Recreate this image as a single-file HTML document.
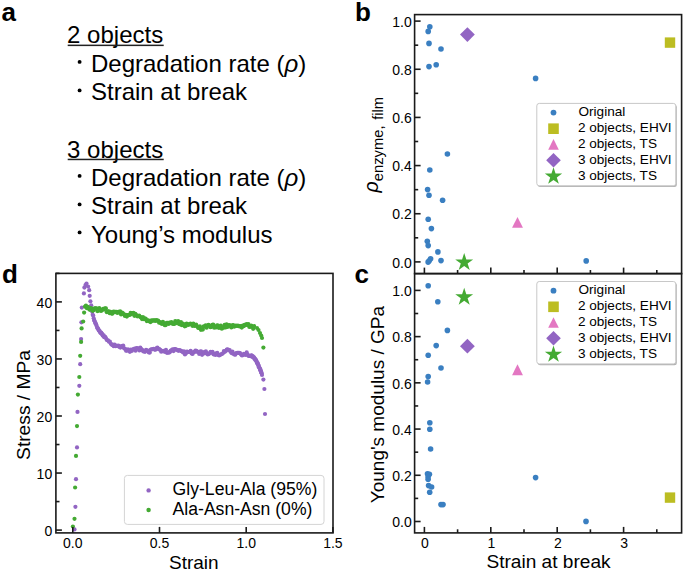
<!DOCTYPE html>
<html><head><meta charset="utf-8"><title>Figure</title>
<style>
html,body{margin:0;padding:0;background:#fff;}
body{width:685px;height:570px;overflow:hidden;font-family:"Liberation Sans", sans-serif;}
svg{display:block;}
</style></head><body>
<svg width="685" height="570" viewBox="0 0 685 570" font-family='"Liberation Sans", sans-serif' fill="#000"><text x="1.5" y="21.3" font-size="26" font-weight="bold">a</text>
<text x="67.1" y="43.4" font-size="24">2 objects</text>
<rect x="67.7" y="44.60" width="96" height="1.5" fill="#222"/>
<circle cx="79.6" cy="61.90" r="1.95" fill="#000"/>
<text x="91" y="71.6" font-size="24">Degradation rate (<tspan font-style="italic">ρ</tspan>)</text>
<circle cx="79.6" cy="90.40" r="1.95" fill="#000"/>
<text x="91" y="100.0" font-size="24">Strain at break</text>
<text x="67.1" y="157.5" font-size="24">3 objects</text>
<rect x="67.7" y="158.70" width="96" height="1.5" fill="#222"/>
<circle cx="79.6" cy="175.90" r="1.95" fill="#000"/>
<text x="91" y="185.6" font-size="24">Degradation rate (<tspan font-style="italic">ρ</tspan>)</text>
<circle cx="79.6" cy="204.40" r="1.95" fill="#000"/>
<text x="91" y="214.0" font-size="24">Strain at break</text>
<circle cx="79.6" cy="232.40" r="1.95" fill="#000"/>
<text x="91" y="242.6" font-size="24">Young’s modulus</text>
<text x="355" y="21" font-size="26" font-weight="bold">b</text>
<text x="411.70" y="267.60" text-anchor="end" font-size="14">0.0</text>
<text x="411.70" y="219.44" text-anchor="end" font-size="14">0.2</text>
<text x="411.70" y="171.28" text-anchor="end" font-size="14">0.4</text>
<text x="411.70" y="123.12" text-anchor="end" font-size="14">0.6</text>
<text x="411.70" y="74.96" text-anchor="end" font-size="14">0.8</text>
<text x="411.70" y="26.80" text-anchor="end" font-size="14">1.0</text>
<text transform="translate(378.2,192.5) rotate(-90)" font-size="19.5"><tspan font-style="italic">ρ</tspan><tspan dy="4.4" font-size="14.8">enzyme,</tspan><tspan dx="5.6" font-size="14.8">film</tspan></text>
<circle cx="429.80" cy="26.80" r="2.8" fill="#3a7fc1"/>
<circle cx="428.20" cy="31.40" r="2.8" fill="#3a7fc1"/>
<circle cx="429.00" cy="43.40" r="2.8" fill="#3a7fc1"/>
<circle cx="441.00" cy="49.00" r="2.8" fill="#3a7fc1"/>
<circle cx="429.00" cy="66.60" r="2.8" fill="#3a7fc1"/>
<circle cx="436.20" cy="64.80" r="2.8" fill="#3a7fc1"/>
<circle cx="535.60" cy="78.40" r="2.8" fill="#3a7fc1"/>
<circle cx="447.40" cy="154.00" r="2.8" fill="#3a7fc1"/>
<circle cx="429.80" cy="170.00" r="2.8" fill="#3a7fc1"/>
<circle cx="427.60" cy="189.60" r="2.8" fill="#3a7fc1"/>
<circle cx="429.00" cy="195.20" r="2.8" fill="#3a7fc1"/>
<circle cx="442.60" cy="200.20" r="2.8" fill="#3a7fc1"/>
<circle cx="428.20" cy="219.20" r="2.8" fill="#3a7fc1"/>
<circle cx="431.40" cy="228.60" r="2.8" fill="#3a7fc1"/>
<circle cx="427.30" cy="241.30" r="2.8" fill="#3a7fc1"/>
<circle cx="428.20" cy="245.60" r="2.8" fill="#3a7fc1"/>
<circle cx="437.90" cy="251.90" r="2.8" fill="#3a7fc1"/>
<circle cx="430.60" cy="258.80" r="2.8" fill="#3a7fc1"/>
<circle cx="429.20" cy="260.70" r="2.8" fill="#3a7fc1"/>
<circle cx="428.10" cy="262.10" r="2.8" fill="#3a7fc1"/>
<circle cx="441.00" cy="260.60" r="2.8" fill="#3a7fc1"/>
<circle cx="586.20" cy="260.90" r="2.8" fill="#3a7fc1"/>
<rect x="664.80" y="37.40" width="10.4" height="10.4" fill="#bcbd22"/>
<path d="M517.50,216.95 L522.95,227.85 L512.05,227.85 Z" fill="#e377c2"/>
<path d="M467.40,27.20 L474.80,34.60 L467.40,42.00 L460.00,34.60 Z" fill="#9265c3"/>
<path d="M464.20,252.90 L466.31,259.40 L473.14,259.40 L467.61,263.41 L469.73,269.90 L464.20,265.89 L458.67,269.90 L460.79,263.41 L455.26,259.40 L462.09,259.40 Z" fill="#44aa33"/>
<text x="354.5" y="283" font-size="26" font-weight="bold">c</text>
<text x="411.70" y="527.20" text-anchor="end" font-size="14">0.0</text>
<text x="411.70" y="480.98" text-anchor="end" font-size="14">0.2</text>
<text x="411.70" y="434.76" text-anchor="end" font-size="14">0.4</text>
<text x="411.70" y="388.54" text-anchor="end" font-size="14">0.6</text>
<text x="411.70" y="342.32" text-anchor="end" font-size="14">0.8</text>
<text x="411.70" y="296.10" text-anchor="end" font-size="14">1.0</text>
<text x="425.00" y="547.80" text-anchor="middle" font-size="14">0</text>
<text x="491.40" y="547.80" text-anchor="middle" font-size="14">1</text>
<text x="557.80" y="547.80" text-anchor="middle" font-size="14">2</text>
<text x="624.20" y="547.80" text-anchor="middle" font-size="14">3</text>
<text x="548.5" y="568" text-anchor="middle" font-size="19.1">Strain at break</text>
<text transform="translate(384.1,404.6) rotate(-90)" text-anchor="middle" font-size="19.0">Young's modulus / GPa</text>
<circle cx="428.20" cy="285.80" r="2.8" fill="#3a7fc1"/>
<circle cx="437.80" cy="301.80" r="2.8" fill="#3a7fc1"/>
<circle cx="447.40" cy="330.40" r="2.8" fill="#3a7fc1"/>
<circle cx="436.20" cy="345.60" r="2.8" fill="#3a7fc1"/>
<circle cx="428.20" cy="355.20" r="2.8" fill="#3a7fc1"/>
<circle cx="441.00" cy="368.00" r="2.8" fill="#3a7fc1"/>
<circle cx="428.20" cy="376.60" r="2.8" fill="#3a7fc1"/>
<circle cx="427.60" cy="382.00" r="2.8" fill="#3a7fc1"/>
<circle cx="429.80" cy="422.80" r="2.8" fill="#3a7fc1"/>
<circle cx="429.80" cy="429.20" r="2.8" fill="#3a7fc1"/>
<circle cx="430.60" cy="449.00" r="2.8" fill="#3a7fc1"/>
<circle cx="427.50" cy="473.80" r="2.8" fill="#3a7fc1"/>
<circle cx="429.40" cy="474.20" r="2.8" fill="#3a7fc1"/>
<circle cx="428.10" cy="476.70" r="2.8" fill="#3a7fc1"/>
<circle cx="428.10" cy="479.30" r="2.8" fill="#3a7fc1"/>
<circle cx="428.60" cy="485.60" r="2.8" fill="#3a7fc1"/>
<circle cx="431.60" cy="487.00" r="2.8" fill="#3a7fc1"/>
<circle cx="429.70" cy="492.20" r="2.8" fill="#3a7fc1"/>
<circle cx="441.00" cy="504.60" r="2.8" fill="#3a7fc1"/>
<circle cx="443.00" cy="504.60" r="2.8" fill="#3a7fc1"/>
<circle cx="535.60" cy="477.60" r="2.8" fill="#3a7fc1"/>
<circle cx="586.00" cy="521.40" r="2.8" fill="#3a7fc1"/>
<rect x="664.80" y="492.40" width="10.4" height="10.4" fill="#bcbd22"/>
<path d="M517.50,364.35 L522.95,375.25 L512.05,375.25 Z" fill="#e377c2"/>
<path d="M467.40,338.80 L474.80,346.20 L467.40,353.60 L460.00,346.20 Z" fill="#9265c3"/>
<path d="M464.20,287.80 L466.31,294.30 L473.14,294.30 L467.61,298.31 L469.73,304.80 L464.20,300.79 L458.67,304.80 L460.79,298.31 L455.26,294.30 L462.09,294.30 Z" fill="#44aa33"/>
<text x="2" y="283" font-size="26" font-weight="bold">d</text>
<text x="52.20" y="535.80" text-anchor="end" font-size="14">0</text>
<text x="52.20" y="478.75" text-anchor="end" font-size="14">10</text>
<text x="52.20" y="421.70" text-anchor="end" font-size="14">20</text>
<text x="52.20" y="364.65" text-anchor="end" font-size="14">30</text>
<text x="52.20" y="307.60" text-anchor="end" font-size="14">40</text>
<text x="72.80" y="547.80" text-anchor="middle" font-size="14">0.0</text>
<text x="159.50" y="547.80" text-anchor="middle" font-size="14">0.5</text>
<text x="246.20" y="547.80" text-anchor="middle" font-size="14">1.0</text>
<text x="332.90" y="547.80" text-anchor="middle" font-size="14">1.5</text>
<text x="193.8" y="568.6" text-anchor="middle" font-size="19.0">Strain</text>
<text transform="translate(29.5,405) rotate(-90)" text-anchor="middle" font-size="19.2">Stress / MPa</text>
<circle cx="74.50" cy="529.40" r="2.1" fill="#9265c3"/>
<circle cx="75.40" cy="506.80" r="2.1" fill="#9265c3"/>
<circle cx="76.00" cy="479.20" r="2.1" fill="#9265c3"/>
<circle cx="77.00" cy="447.40" r="2.1" fill="#9265c3"/>
<circle cx="77.50" cy="411.90" r="2.1" fill="#9265c3"/>
<circle cx="79.30" cy="385.80" r="2.1" fill="#9265c3"/>
<circle cx="80.20" cy="364.20" r="2.1" fill="#9265c3"/>
<circle cx="81.10" cy="339.10" r="2.1" fill="#9265c3"/>
<circle cx="81.40" cy="322.30" r="2.1" fill="#9265c3"/>
<circle cx="81.80" cy="307.60" r="2.1" fill="#9265c3"/>
<circle cx="83.90" cy="293.40" r="2.1" fill="#9265c3"/>
<circle cx="84.40" cy="287.60" r="2.1" fill="#9265c3"/>
<circle cx="85.50" cy="285.00" r="2.1" fill="#9265c3"/>
<circle cx="86.50" cy="283.60" r="2.1" fill="#9265c3"/>
<circle cx="88.10" cy="286.50" r="2.1" fill="#9265c3"/>
<circle cx="89.20" cy="290.20" r="2.1" fill="#9265c3"/>
<circle cx="89.70" cy="295.80" r="2.1" fill="#9265c3"/>
<circle cx="90.40" cy="301.30" r="2.1" fill="#9265c3"/>
<circle cx="91.20" cy="305.25" r="2.1" fill="#9265c3"/>
<circle cx="91.70" cy="308.63" r="2.1" fill="#9265c3"/>
<circle cx="92.20" cy="311.83" r="2.1" fill="#9265c3"/>
<circle cx="92.70" cy="314.76" r="2.1" fill="#9265c3"/>
<circle cx="93.20" cy="315.62" r="2.1" fill="#9265c3"/>
<circle cx="93.70" cy="318.31" r="2.1" fill="#9265c3"/>
<circle cx="94.20" cy="320.36" r="2.1" fill="#9265c3"/>
<circle cx="94.70" cy="321.35" r="2.1" fill="#9265c3"/>
<circle cx="95.20" cy="323.00" r="2.1" fill="#9265c3"/>
<circle cx="95.70" cy="323.43" r="2.1" fill="#9265c3"/>
<circle cx="96.20" cy="324.71" r="2.1" fill="#9265c3"/>
<circle cx="96.70" cy="326.09" r="2.1" fill="#9265c3"/>
<circle cx="97.20" cy="327.81" r="2.1" fill="#9265c3"/>
<circle cx="97.70" cy="328.21" r="2.1" fill="#9265c3"/>
<circle cx="98.20" cy="328.86" r="2.1" fill="#9265c3"/>
<circle cx="98.70" cy="330.19" r="2.1" fill="#9265c3"/>
<circle cx="99.20" cy="330.80" r="2.1" fill="#9265c3"/>
<circle cx="99.70" cy="331.22" r="2.1" fill="#9265c3"/>
<circle cx="100.20" cy="332.59" r="2.1" fill="#9265c3"/>
<circle cx="100.70" cy="332.91" r="2.1" fill="#9265c3"/>
<circle cx="101.20" cy="332.60" r="2.1" fill="#9265c3"/>
<circle cx="101.70" cy="333.72" r="2.1" fill="#9265c3"/>
<circle cx="102.20" cy="334.18" r="2.1" fill="#9265c3"/>
<circle cx="102.70" cy="335.38" r="2.1" fill="#9265c3"/>
<circle cx="103.20" cy="335.71" r="2.1" fill="#9265c3"/>
<circle cx="103.70" cy="335.43" r="2.1" fill="#9265c3"/>
<circle cx="104.20" cy="337.21" r="2.1" fill="#9265c3"/>
<circle cx="105.15" cy="336.74" r="2.1" fill="#9265c3"/>
<circle cx="106.10" cy="338.42" r="2.1" fill="#9265c3"/>
<circle cx="107.05" cy="340.23" r="2.1" fill="#9265c3"/>
<circle cx="108.00" cy="340.23" r="2.1" fill="#9265c3"/>
<circle cx="108.95" cy="341.66" r="2.1" fill="#9265c3"/>
<circle cx="109.90" cy="341.63" r="2.1" fill="#9265c3"/>
<circle cx="110.85" cy="343.79" r="2.1" fill="#9265c3"/>
<circle cx="111.80" cy="344.78" r="2.1" fill="#9265c3"/>
<circle cx="112.75" cy="344.65" r="2.1" fill="#9265c3"/>
<circle cx="113.70" cy="346.21" r="2.1" fill="#9265c3"/>
<circle cx="114.65" cy="344.59" r="2.1" fill="#9265c3"/>
<circle cx="115.60" cy="346.17" r="2.1" fill="#9265c3"/>
<circle cx="116.55" cy="345.86" r="2.1" fill="#9265c3"/>
<circle cx="117.50" cy="345.86" r="2.1" fill="#9265c3"/>
<circle cx="118.45" cy="345.50" r="2.1" fill="#9265c3"/>
<circle cx="119.40" cy="347.01" r="2.1" fill="#9265c3"/>
<circle cx="120.35" cy="347.58" r="2.1" fill="#9265c3"/>
<circle cx="121.30" cy="346.17" r="2.1" fill="#9265c3"/>
<circle cx="122.25" cy="347.23" r="2.1" fill="#9265c3"/>
<circle cx="123.20" cy="345.51" r="2.1" fill="#9265c3"/>
<circle cx="124.15" cy="348.34" r="2.1" fill="#9265c3"/>
<circle cx="125.10" cy="348.80" r="2.1" fill="#9265c3"/>
<circle cx="126.05" cy="350.71" r="2.1" fill="#9265c3"/>
<circle cx="127.00" cy="350.75" r="2.1" fill="#9265c3"/>
<circle cx="127.95" cy="349.43" r="2.1" fill="#9265c3"/>
<circle cx="128.90" cy="350.35" r="2.1" fill="#9265c3"/>
<circle cx="129.85" cy="351.84" r="2.1" fill="#9265c3"/>
<circle cx="130.80" cy="349.49" r="2.1" fill="#9265c3"/>
<circle cx="131.75" cy="350.88" r="2.1" fill="#9265c3"/>
<circle cx="132.70" cy="349.56" r="2.1" fill="#9265c3"/>
<circle cx="133.65" cy="349.05" r="2.1" fill="#9265c3"/>
<circle cx="134.60" cy="348.49" r="2.1" fill="#9265c3"/>
<circle cx="135.55" cy="350.70" r="2.1" fill="#9265c3"/>
<circle cx="136.50" cy="348.07" r="2.1" fill="#9265c3"/>
<circle cx="137.45" cy="348.23" r="2.1" fill="#9265c3"/>
<circle cx="138.40" cy="348.67" r="2.1" fill="#9265c3"/>
<circle cx="139.35" cy="350.42" r="2.1" fill="#9265c3"/>
<circle cx="140.30" cy="347.67" r="2.1" fill="#9265c3"/>
<circle cx="141.25" cy="349.19" r="2.1" fill="#9265c3"/>
<circle cx="142.20" cy="349.80" r="2.1" fill="#9265c3"/>
<circle cx="143.15" cy="351.29" r="2.1" fill="#9265c3"/>
<circle cx="144.10" cy="351.36" r="2.1" fill="#9265c3"/>
<circle cx="145.05" cy="351.81" r="2.1" fill="#9265c3"/>
<circle cx="146.00" cy="349.95" r="2.1" fill="#9265c3"/>
<circle cx="146.95" cy="350.63" r="2.1" fill="#9265c3"/>
<circle cx="147.90" cy="350.53" r="2.1" fill="#9265c3"/>
<circle cx="148.85" cy="352.43" r="2.1" fill="#9265c3"/>
<circle cx="149.80" cy="352.60" r="2.1" fill="#9265c3"/>
<circle cx="150.75" cy="349.49" r="2.1" fill="#9265c3"/>
<circle cx="151.70" cy="349.31" r="2.1" fill="#9265c3"/>
<circle cx="152.65" cy="349.23" r="2.1" fill="#9265c3"/>
<circle cx="153.60" cy="348.94" r="2.1" fill="#9265c3"/>
<circle cx="154.55" cy="349.59" r="2.1" fill="#9265c3"/>
<circle cx="155.50" cy="349.77" r="2.1" fill="#9265c3"/>
<circle cx="156.45" cy="348.47" r="2.1" fill="#9265c3"/>
<circle cx="157.40" cy="347.49" r="2.1" fill="#9265c3"/>
<circle cx="158.35" cy="349.03" r="2.1" fill="#9265c3"/>
<circle cx="159.30" cy="348.98" r="2.1" fill="#9265c3"/>
<circle cx="160.25" cy="349.91" r="2.1" fill="#9265c3"/>
<circle cx="161.20" cy="351.64" r="2.1" fill="#9265c3"/>
<circle cx="162.15" cy="351.05" r="2.1" fill="#9265c3"/>
<circle cx="163.10" cy="350.76" r="2.1" fill="#9265c3"/>
<circle cx="164.05" cy="351.41" r="2.1" fill="#9265c3"/>
<circle cx="165.00" cy="351.85" r="2.1" fill="#9265c3"/>
<circle cx="165.95" cy="349.75" r="2.1" fill="#9265c3"/>
<circle cx="166.90" cy="352.85" r="2.1" fill="#9265c3"/>
<circle cx="167.85" cy="352.39" r="2.1" fill="#9265c3"/>
<circle cx="168.80" cy="352.63" r="2.1" fill="#9265c3"/>
<circle cx="169.75" cy="352.21" r="2.1" fill="#9265c3"/>
<circle cx="170.70" cy="350.57" r="2.1" fill="#9265c3"/>
<circle cx="171.65" cy="350.43" r="2.1" fill="#9265c3"/>
<circle cx="172.60" cy="349.23" r="2.1" fill="#9265c3"/>
<circle cx="173.55" cy="351.06" r="2.1" fill="#9265c3"/>
<circle cx="174.50" cy="349.00" r="2.1" fill="#9265c3"/>
<circle cx="175.45" cy="349.10" r="2.1" fill="#9265c3"/>
<circle cx="176.40" cy="349.78" r="2.1" fill="#9265c3"/>
<circle cx="177.35" cy="349.85" r="2.1" fill="#9265c3"/>
<circle cx="178.30" cy="350.80" r="2.1" fill="#9265c3"/>
<circle cx="179.25" cy="350.10" r="2.1" fill="#9265c3"/>
<circle cx="180.20" cy="350.26" r="2.1" fill="#9265c3"/>
<circle cx="181.15" cy="351.13" r="2.1" fill="#9265c3"/>
<circle cx="182.10" cy="351.23" r="2.1" fill="#9265c3"/>
<circle cx="183.05" cy="352.39" r="2.1" fill="#9265c3"/>
<circle cx="184.00" cy="351.30" r="2.1" fill="#9265c3"/>
<circle cx="184.95" cy="354.39" r="2.1" fill="#9265c3"/>
<circle cx="185.90" cy="353.42" r="2.1" fill="#9265c3"/>
<circle cx="186.85" cy="351.63" r="2.1" fill="#9265c3"/>
<circle cx="187.80" cy="351.84" r="2.1" fill="#9265c3"/>
<circle cx="188.75" cy="352.00" r="2.1" fill="#9265c3"/>
<circle cx="189.70" cy="351.89" r="2.1" fill="#9265c3"/>
<circle cx="190.65" cy="350.89" r="2.1" fill="#9265c3"/>
<circle cx="191.60" cy="353.42" r="2.1" fill="#9265c3"/>
<circle cx="192.55" cy="353.94" r="2.1" fill="#9265c3"/>
<circle cx="193.50" cy="352.03" r="2.1" fill="#9265c3"/>
<circle cx="194.45" cy="352.08" r="2.1" fill="#9265c3"/>
<circle cx="195.40" cy="350.70" r="2.1" fill="#9265c3"/>
<circle cx="196.35" cy="350.88" r="2.1" fill="#9265c3"/>
<circle cx="197.30" cy="351.89" r="2.1" fill="#9265c3"/>
<circle cx="198.25" cy="351.77" r="2.1" fill="#9265c3"/>
<circle cx="199.20" cy="353.93" r="2.1" fill="#9265c3"/>
<circle cx="200.15" cy="351.64" r="2.1" fill="#9265c3"/>
<circle cx="201.10" cy="351.38" r="2.1" fill="#9265c3"/>
<circle cx="202.05" cy="354.87" r="2.1" fill="#9265c3"/>
<circle cx="203.00" cy="353.41" r="2.1" fill="#9265c3"/>
<circle cx="203.95" cy="352.02" r="2.1" fill="#9265c3"/>
<circle cx="204.90" cy="353.36" r="2.1" fill="#9265c3"/>
<circle cx="205.85" cy="351.37" r="2.1" fill="#9265c3"/>
<circle cx="206.80" cy="353.02" r="2.1" fill="#9265c3"/>
<circle cx="207.75" cy="354.50" r="2.1" fill="#9265c3"/>
<circle cx="208.70" cy="353.98" r="2.1" fill="#9265c3"/>
<circle cx="209.65" cy="353.34" r="2.1" fill="#9265c3"/>
<circle cx="210.60" cy="351.82" r="2.1" fill="#9265c3"/>
<circle cx="211.55" cy="352.32" r="2.1" fill="#9265c3"/>
<circle cx="212.50" cy="351.82" r="2.1" fill="#9265c3"/>
<circle cx="213.45" cy="354.28" r="2.1" fill="#9265c3"/>
<circle cx="214.40" cy="353.76" r="2.1" fill="#9265c3"/>
<circle cx="215.35" cy="354.90" r="2.1" fill="#9265c3"/>
<circle cx="216.30" cy="353.30" r="2.1" fill="#9265c3"/>
<circle cx="217.25" cy="352.92" r="2.1" fill="#9265c3"/>
<circle cx="218.20" cy="354.98" r="2.1" fill="#9265c3"/>
<circle cx="219.15" cy="355.48" r="2.1" fill="#9265c3"/>
<circle cx="220.10" cy="354.79" r="2.1" fill="#9265c3"/>
<circle cx="221.05" cy="354.33" r="2.1" fill="#9265c3"/>
<circle cx="222.00" cy="353.99" r="2.1" fill="#9265c3"/>
<circle cx="222.95" cy="353.26" r="2.1" fill="#9265c3"/>
<circle cx="223.90" cy="351.10" r="2.1" fill="#9265c3"/>
<circle cx="224.85" cy="351.83" r="2.1" fill="#9265c3"/>
<circle cx="225.80" cy="350.94" r="2.1" fill="#9265c3"/>
<circle cx="226.75" cy="349.50" r="2.1" fill="#9265c3"/>
<circle cx="227.70" cy="349.30" r="2.1" fill="#9265c3"/>
<circle cx="228.65" cy="350.09" r="2.1" fill="#9265c3"/>
<circle cx="229.60" cy="349.98" r="2.1" fill="#9265c3"/>
<circle cx="230.55" cy="351.73" r="2.1" fill="#9265c3"/>
<circle cx="231.50" cy="353.04" r="2.1" fill="#9265c3"/>
<circle cx="232.45" cy="351.62" r="2.1" fill="#9265c3"/>
<circle cx="233.40" cy="353.83" r="2.1" fill="#9265c3"/>
<circle cx="234.35" cy="354.45" r="2.1" fill="#9265c3"/>
<circle cx="235.30" cy="354.74" r="2.1" fill="#9265c3"/>
<circle cx="236.25" cy="352.98" r="2.1" fill="#9265c3"/>
<circle cx="237.20" cy="352.74" r="2.1" fill="#9265c3"/>
<circle cx="238.15" cy="352.96" r="2.1" fill="#9265c3"/>
<circle cx="239.10" cy="352.96" r="2.1" fill="#9265c3"/>
<circle cx="240.05" cy="353.02" r="2.1" fill="#9265c3"/>
<circle cx="241.00" cy="354.49" r="2.1" fill="#9265c3"/>
<circle cx="241.95" cy="355.41" r="2.1" fill="#9265c3"/>
<circle cx="242.90" cy="355.10" r="2.1" fill="#9265c3"/>
<circle cx="243.85" cy="353.73" r="2.1" fill="#9265c3"/>
<circle cx="244.80" cy="354.32" r="2.1" fill="#9265c3"/>
<circle cx="245.75" cy="354.88" r="2.1" fill="#9265c3"/>
<circle cx="246.70" cy="352.42" r="2.1" fill="#9265c3"/>
<circle cx="247.65" cy="354.70" r="2.1" fill="#9265c3"/>
<circle cx="248.60" cy="355.89" r="2.1" fill="#9265c3"/>
<circle cx="249.55" cy="355.79" r="2.1" fill="#9265c3"/>
<circle cx="250.50" cy="356.08" r="2.1" fill="#9265c3"/>
<circle cx="251.30" cy="355.46" r="2.1" fill="#9265c3"/>
<circle cx="251.75" cy="355.54" r="2.1" fill="#9265c3"/>
<circle cx="252.20" cy="356.70" r="2.1" fill="#9265c3"/>
<circle cx="252.65" cy="356.14" r="2.1" fill="#9265c3"/>
<circle cx="253.10" cy="357.24" r="2.1" fill="#9265c3"/>
<circle cx="253.55" cy="357.35" r="2.1" fill="#9265c3"/>
<circle cx="254.00" cy="357.42" r="2.1" fill="#9265c3"/>
<circle cx="254.45" cy="358.70" r="2.1" fill="#9265c3"/>
<circle cx="254.90" cy="358.51" r="2.1" fill="#9265c3"/>
<circle cx="255.35" cy="359.71" r="2.1" fill="#9265c3"/>
<circle cx="255.80" cy="359.81" r="2.1" fill="#9265c3"/>
<circle cx="256.25" cy="360.60" r="2.1" fill="#9265c3"/>
<circle cx="256.70" cy="361.88" r="2.1" fill="#9265c3"/>
<circle cx="257.15" cy="363.32" r="2.1" fill="#9265c3"/>
<circle cx="257.60" cy="363.10" r="2.1" fill="#9265c3"/>
<circle cx="258.05" cy="364.16" r="2.1" fill="#9265c3"/>
<circle cx="258.50" cy="365.70" r="2.1" fill="#9265c3"/>
<circle cx="258.95" cy="367.27" r="2.1" fill="#9265c3"/>
<circle cx="259.40" cy="367.72" r="2.1" fill="#9265c3"/>
<circle cx="259.85" cy="368.48" r="2.1" fill="#9265c3"/>
<circle cx="260.30" cy="370.51" r="2.1" fill="#9265c3"/>
<circle cx="260.75" cy="370.15" r="2.1" fill="#9265c3"/>
<circle cx="261.20" cy="372.57" r="2.1" fill="#9265c3"/>
<circle cx="261.65" cy="373.35" r="2.1" fill="#9265c3"/>
<circle cx="253.50" cy="357.50" r="2.1" fill="#9265c3"/>
<circle cx="255.50" cy="360.00" r="2.1" fill="#9265c3"/>
<circle cx="257.00" cy="362.50" r="2.1" fill="#9265c3"/>
<circle cx="258.50" cy="365.50" r="2.1" fill="#9265c3"/>
<circle cx="260.00" cy="369.00" r="2.1" fill="#9265c3"/>
<circle cx="261.20" cy="372.00" r="2.1" fill="#9265c3"/>
<circle cx="262.00" cy="375.00" r="2.1" fill="#9265c3"/>
<circle cx="263.40" cy="379.60" r="2.1" fill="#9265c3"/>
<circle cx="264.40" cy="389.00" r="2.1" fill="#9265c3"/>
<circle cx="265.00" cy="414.00" r="2.1" fill="#9265c3"/>
<circle cx="72.90" cy="526.50" r="2.1" fill="#44aa33"/>
<circle cx="74.50" cy="518.80" r="2.1" fill="#44aa33"/>
<circle cx="75.10" cy="487.50" r="2.1" fill="#44aa33"/>
<circle cx="76.00" cy="455.90" r="2.1" fill="#44aa33"/>
<circle cx="77.00" cy="426.10" r="2.1" fill="#44aa33"/>
<circle cx="77.90" cy="394.60" r="2.1" fill="#44aa33"/>
<circle cx="79.30" cy="377.00" r="2.1" fill="#44aa33"/>
<circle cx="80.20" cy="355.80" r="2.1" fill="#44aa33"/>
<circle cx="81.10" cy="341.90" r="2.1" fill="#44aa33"/>
<circle cx="81.60" cy="328.40" r="2.1" fill="#44aa33"/>
<circle cx="83.20" cy="321.50" r="2.1" fill="#44aa33"/>
<circle cx="84.10" cy="312.60" r="2.1" fill="#44aa33"/>
<circle cx="85.00" cy="306.62" r="2.1" fill="#44aa33"/>
<circle cx="85.95" cy="305.69" r="2.1" fill="#44aa33"/>
<circle cx="86.90" cy="308.13" r="2.1" fill="#44aa33"/>
<circle cx="87.85" cy="306.79" r="2.1" fill="#44aa33"/>
<circle cx="88.80" cy="308.84" r="2.1" fill="#44aa33"/>
<circle cx="89.75" cy="309.84" r="2.1" fill="#44aa33"/>
<circle cx="90.70" cy="308.16" r="2.1" fill="#44aa33"/>
<circle cx="91.65" cy="308.54" r="2.1" fill="#44aa33"/>
<circle cx="92.60" cy="310.82" r="2.1" fill="#44aa33"/>
<circle cx="93.55" cy="310.25" r="2.1" fill="#44aa33"/>
<circle cx="94.50" cy="308.40" r="2.1" fill="#44aa33"/>
<circle cx="95.45" cy="308.31" r="2.1" fill="#44aa33"/>
<circle cx="96.40" cy="308.39" r="2.1" fill="#44aa33"/>
<circle cx="97.35" cy="311.04" r="2.1" fill="#44aa33"/>
<circle cx="98.30" cy="310.58" r="2.1" fill="#44aa33"/>
<circle cx="99.25" cy="308.09" r="2.1" fill="#44aa33"/>
<circle cx="100.20" cy="310.44" r="2.1" fill="#44aa33"/>
<circle cx="101.15" cy="310.94" r="2.1" fill="#44aa33"/>
<circle cx="102.10" cy="309.78" r="2.1" fill="#44aa33"/>
<circle cx="103.05" cy="308.76" r="2.1" fill="#44aa33"/>
<circle cx="104.00" cy="309.65" r="2.1" fill="#44aa33"/>
<circle cx="104.95" cy="308.41" r="2.1" fill="#44aa33"/>
<circle cx="105.90" cy="308.32" r="2.1" fill="#44aa33"/>
<circle cx="106.85" cy="312.15" r="2.1" fill="#44aa33"/>
<circle cx="107.80" cy="311.41" r="2.1" fill="#44aa33"/>
<circle cx="108.75" cy="311.37" r="2.1" fill="#44aa33"/>
<circle cx="109.70" cy="313.21" r="2.1" fill="#44aa33"/>
<circle cx="110.65" cy="311.74" r="2.1" fill="#44aa33"/>
<circle cx="111.60" cy="313.56" r="2.1" fill="#44aa33"/>
<circle cx="112.55" cy="313.61" r="2.1" fill="#44aa33"/>
<circle cx="113.50" cy="311.55" r="2.1" fill="#44aa33"/>
<circle cx="114.45" cy="311.78" r="2.1" fill="#44aa33"/>
<circle cx="115.40" cy="311.95" r="2.1" fill="#44aa33"/>
<circle cx="116.35" cy="311.75" r="2.1" fill="#44aa33"/>
<circle cx="117.30" cy="312.97" r="2.1" fill="#44aa33"/>
<circle cx="118.25" cy="311.78" r="2.1" fill="#44aa33"/>
<circle cx="119.20" cy="312.39" r="2.1" fill="#44aa33"/>
<circle cx="120.15" cy="311.46" r="2.1" fill="#44aa33"/>
<circle cx="121.10" cy="314.45" r="2.1" fill="#44aa33"/>
<circle cx="122.05" cy="312.72" r="2.1" fill="#44aa33"/>
<circle cx="123.00" cy="313.46" r="2.1" fill="#44aa33"/>
<circle cx="123.95" cy="314.34" r="2.1" fill="#44aa33"/>
<circle cx="124.90" cy="315.97" r="2.1" fill="#44aa33"/>
<circle cx="125.85" cy="314.73" r="2.1" fill="#44aa33"/>
<circle cx="126.80" cy="316.61" r="2.1" fill="#44aa33"/>
<circle cx="127.75" cy="315.10" r="2.1" fill="#44aa33"/>
<circle cx="128.70" cy="315.14" r="2.1" fill="#44aa33"/>
<circle cx="129.65" cy="314.96" r="2.1" fill="#44aa33"/>
<circle cx="130.60" cy="312.91" r="2.1" fill="#44aa33"/>
<circle cx="131.55" cy="314.10" r="2.1" fill="#44aa33"/>
<circle cx="132.50" cy="313.15" r="2.1" fill="#44aa33"/>
<circle cx="133.45" cy="312.76" r="2.1" fill="#44aa33"/>
<circle cx="134.40" cy="315.84" r="2.1" fill="#44aa33"/>
<circle cx="135.35" cy="313.80" r="2.1" fill="#44aa33"/>
<circle cx="136.30" cy="315.12" r="2.1" fill="#44aa33"/>
<circle cx="137.25" cy="316.30" r="2.1" fill="#44aa33"/>
<circle cx="138.20" cy="316.05" r="2.1" fill="#44aa33"/>
<circle cx="139.15" cy="315.65" r="2.1" fill="#44aa33"/>
<circle cx="140.10" cy="316.86" r="2.1" fill="#44aa33"/>
<circle cx="141.05" cy="317.60" r="2.1" fill="#44aa33"/>
<circle cx="142.00" cy="319.09" r="2.1" fill="#44aa33"/>
<circle cx="142.95" cy="317.07" r="2.1" fill="#44aa33"/>
<circle cx="143.90" cy="319.14" r="2.1" fill="#44aa33"/>
<circle cx="144.85" cy="318.44" r="2.1" fill="#44aa33"/>
<circle cx="145.80" cy="318.93" r="2.1" fill="#44aa33"/>
<circle cx="146.75" cy="321.04" r="2.1" fill="#44aa33"/>
<circle cx="147.70" cy="320.34" r="2.1" fill="#44aa33"/>
<circle cx="148.65" cy="320.70" r="2.1" fill="#44aa33"/>
<circle cx="149.60" cy="321.49" r="2.1" fill="#44aa33"/>
<circle cx="150.55" cy="322.04" r="2.1" fill="#44aa33"/>
<circle cx="151.50" cy="320.29" r="2.1" fill="#44aa33"/>
<circle cx="152.45" cy="320.81" r="2.1" fill="#44aa33"/>
<circle cx="153.40" cy="320.33" r="2.1" fill="#44aa33"/>
<circle cx="154.35" cy="320.29" r="2.1" fill="#44aa33"/>
<circle cx="155.30" cy="320.92" r="2.1" fill="#44aa33"/>
<circle cx="156.25" cy="320.12" r="2.1" fill="#44aa33"/>
<circle cx="157.20" cy="320.58" r="2.1" fill="#44aa33"/>
<circle cx="158.15" cy="320.64" r="2.1" fill="#44aa33"/>
<circle cx="159.10" cy="322.65" r="2.1" fill="#44aa33"/>
<circle cx="160.05" cy="322.18" r="2.1" fill="#44aa33"/>
<circle cx="161.00" cy="323.27" r="2.1" fill="#44aa33"/>
<circle cx="161.95" cy="323.97" r="2.1" fill="#44aa33"/>
<circle cx="162.90" cy="321.97" r="2.1" fill="#44aa33"/>
<circle cx="163.85" cy="323.47" r="2.1" fill="#44aa33"/>
<circle cx="164.80" cy="325.21" r="2.1" fill="#44aa33"/>
<circle cx="165.75" cy="325.11" r="2.1" fill="#44aa33"/>
<circle cx="166.70" cy="322.77" r="2.1" fill="#44aa33"/>
<circle cx="167.65" cy="322.81" r="2.1" fill="#44aa33"/>
<circle cx="168.60" cy="323.99" r="2.1" fill="#44aa33"/>
<circle cx="169.55" cy="322.64" r="2.1" fill="#44aa33"/>
<circle cx="170.50" cy="323.00" r="2.1" fill="#44aa33"/>
<circle cx="171.45" cy="322.00" r="2.1" fill="#44aa33"/>
<circle cx="172.40" cy="323.77" r="2.1" fill="#44aa33"/>
<circle cx="173.35" cy="323.85" r="2.1" fill="#44aa33"/>
<circle cx="174.30" cy="324.01" r="2.1" fill="#44aa33"/>
<circle cx="175.25" cy="321.17" r="2.1" fill="#44aa33"/>
<circle cx="176.20" cy="323.11" r="2.1" fill="#44aa33"/>
<circle cx="177.15" cy="322.91" r="2.1" fill="#44aa33"/>
<circle cx="178.10" cy="321.12" r="2.1" fill="#44aa33"/>
<circle cx="179.05" cy="323.89" r="2.1" fill="#44aa33"/>
<circle cx="180.00" cy="324.32" r="2.1" fill="#44aa33"/>
<circle cx="180.95" cy="322.13" r="2.1" fill="#44aa33"/>
<circle cx="181.90" cy="325.23" r="2.1" fill="#44aa33"/>
<circle cx="182.85" cy="323.64" r="2.1" fill="#44aa33"/>
<circle cx="183.80" cy="324.28" r="2.1" fill="#44aa33"/>
<circle cx="184.75" cy="326.32" r="2.1" fill="#44aa33"/>
<circle cx="185.70" cy="325.90" r="2.1" fill="#44aa33"/>
<circle cx="186.65" cy="323.55" r="2.1" fill="#44aa33"/>
<circle cx="187.60" cy="324.55" r="2.1" fill="#44aa33"/>
<circle cx="188.55" cy="324.84" r="2.1" fill="#44aa33"/>
<circle cx="189.50" cy="324.20" r="2.1" fill="#44aa33"/>
<circle cx="190.45" cy="323.71" r="2.1" fill="#44aa33"/>
<circle cx="191.40" cy="324.24" r="2.1" fill="#44aa33"/>
<circle cx="192.35" cy="325.84" r="2.1" fill="#44aa33"/>
<circle cx="193.30" cy="323.55" r="2.1" fill="#44aa33"/>
<circle cx="194.25" cy="325.78" r="2.1" fill="#44aa33"/>
<circle cx="195.20" cy="325.76" r="2.1" fill="#44aa33"/>
<circle cx="196.15" cy="324.70" r="2.1" fill="#44aa33"/>
<circle cx="197.10" cy="326.31" r="2.1" fill="#44aa33"/>
<circle cx="198.05" cy="327.87" r="2.1" fill="#44aa33"/>
<circle cx="199.00" cy="327.95" r="2.1" fill="#44aa33"/>
<circle cx="199.95" cy="326.46" r="2.1" fill="#44aa33"/>
<circle cx="200.90" cy="329.82" r="2.1" fill="#44aa33"/>
<circle cx="201.85" cy="329.08" r="2.1" fill="#44aa33"/>
<circle cx="202.80" cy="329.62" r="2.1" fill="#44aa33"/>
<circle cx="203.75" cy="326.29" r="2.1" fill="#44aa33"/>
<circle cx="204.70" cy="326.60" r="2.1" fill="#44aa33"/>
<circle cx="205.65" cy="325.46" r="2.1" fill="#44aa33"/>
<circle cx="206.60" cy="327.77" r="2.1" fill="#44aa33"/>
<circle cx="207.55" cy="325.60" r="2.1" fill="#44aa33"/>
<circle cx="208.50" cy="324.78" r="2.1" fill="#44aa33"/>
<circle cx="209.45" cy="325.58" r="2.1" fill="#44aa33"/>
<circle cx="210.40" cy="327.19" r="2.1" fill="#44aa33"/>
<circle cx="211.35" cy="326.85" r="2.1" fill="#44aa33"/>
<circle cx="212.30" cy="324.91" r="2.1" fill="#44aa33"/>
<circle cx="213.25" cy="324.67" r="2.1" fill="#44aa33"/>
<circle cx="214.20" cy="327.66" r="2.1" fill="#44aa33"/>
<circle cx="215.15" cy="326.65" r="2.1" fill="#44aa33"/>
<circle cx="216.10" cy="327.38" r="2.1" fill="#44aa33"/>
<circle cx="217.05" cy="325.42" r="2.1" fill="#44aa33"/>
<circle cx="218.00" cy="325.49" r="2.1" fill="#44aa33"/>
<circle cx="218.95" cy="327.89" r="2.1" fill="#44aa33"/>
<circle cx="219.90" cy="326.98" r="2.1" fill="#44aa33"/>
<circle cx="220.85" cy="325.66" r="2.1" fill="#44aa33"/>
<circle cx="221.80" cy="328.65" r="2.1" fill="#44aa33"/>
<circle cx="222.75" cy="327.36" r="2.1" fill="#44aa33"/>
<circle cx="223.70" cy="327.71" r="2.1" fill="#44aa33"/>
<circle cx="224.65" cy="324.86" r="2.1" fill="#44aa33"/>
<circle cx="225.60" cy="327.38" r="2.1" fill="#44aa33"/>
<circle cx="226.55" cy="324.31" r="2.1" fill="#44aa33"/>
<circle cx="227.50" cy="327.01" r="2.1" fill="#44aa33"/>
<circle cx="228.45" cy="325.45" r="2.1" fill="#44aa33"/>
<circle cx="229.40" cy="325.04" r="2.1" fill="#44aa33"/>
<circle cx="230.35" cy="325.90" r="2.1" fill="#44aa33"/>
<circle cx="231.30" cy="327.41" r="2.1" fill="#44aa33"/>
<circle cx="232.25" cy="325.27" r="2.1" fill="#44aa33"/>
<circle cx="233.20" cy="325.04" r="2.1" fill="#44aa33"/>
<circle cx="234.15" cy="326.74" r="2.1" fill="#44aa33"/>
<circle cx="235.10" cy="325.95" r="2.1" fill="#44aa33"/>
<circle cx="236.05" cy="325.68" r="2.1" fill="#44aa33"/>
<circle cx="237.00" cy="325.99" r="2.1" fill="#44aa33"/>
<circle cx="237.95" cy="325.63" r="2.1" fill="#44aa33"/>
<circle cx="238.90" cy="326.13" r="2.1" fill="#44aa33"/>
<circle cx="239.85" cy="326.40" r="2.1" fill="#44aa33"/>
<circle cx="240.80" cy="326.18" r="2.1" fill="#44aa33"/>
<circle cx="241.75" cy="327.58" r="2.1" fill="#44aa33"/>
<circle cx="242.70" cy="325.63" r="2.1" fill="#44aa33"/>
<circle cx="243.65" cy="326.14" r="2.1" fill="#44aa33"/>
<circle cx="244.60" cy="324.77" r="2.1" fill="#44aa33"/>
<circle cx="245.55" cy="325.25" r="2.1" fill="#44aa33"/>
<circle cx="246.50" cy="324.02" r="2.1" fill="#44aa33"/>
<circle cx="247.45" cy="324.89" r="2.1" fill="#44aa33"/>
<circle cx="248.40" cy="324.17" r="2.1" fill="#44aa33"/>
<circle cx="249.35" cy="326.96" r="2.1" fill="#44aa33"/>
<circle cx="250.30" cy="326.56" r="2.1" fill="#44aa33"/>
<circle cx="251.25" cy="325.55" r="2.1" fill="#44aa33"/>
<circle cx="252.20" cy="326.87" r="2.1" fill="#44aa33"/>
<circle cx="253.15" cy="328.79" r="2.1" fill="#44aa33"/>
<circle cx="254.10" cy="326.02" r="2.1" fill="#44aa33"/>
<circle cx="257.00" cy="328.00" r="2.1" fill="#44aa33"/>
<circle cx="258.50" cy="330.00" r="2.1" fill="#44aa33"/>
<circle cx="260.00" cy="333.00" r="2.1" fill="#44aa33"/>
<circle cx="261.20" cy="335.50" r="2.1" fill="#44aa33"/>
<circle cx="262.00" cy="338.00" r="2.1" fill="#44aa33"/>
<circle cx="263.40" cy="347.60" r="2.1" fill="#44aa33"/>
<line x1="414.6" y1="261.90" x2="420.6" y2="261.90" stroke="#1a1a1a" stroke-width="1.6"/>
<line x1="414.6" y1="237.82" x2="418.20000000000005" y2="237.82" stroke="#1a1a1a" stroke-width="1.6"/>
<line x1="414.6" y1="213.74" x2="420.6" y2="213.74" stroke="#1a1a1a" stroke-width="1.6"/>
<line x1="414.6" y1="189.66" x2="418.20000000000005" y2="189.66" stroke="#1a1a1a" stroke-width="1.6"/>
<line x1="414.6" y1="165.58" x2="420.6" y2="165.58" stroke="#1a1a1a" stroke-width="1.6"/>
<line x1="414.6" y1="141.50" x2="418.20000000000005" y2="141.50" stroke="#1a1a1a" stroke-width="1.6"/>
<line x1="414.6" y1="117.42" x2="420.6" y2="117.42" stroke="#1a1a1a" stroke-width="1.6"/>
<line x1="414.6" y1="93.34" x2="418.20000000000005" y2="93.34" stroke="#1a1a1a" stroke-width="1.6"/>
<line x1="414.6" y1="69.26" x2="420.6" y2="69.26" stroke="#1a1a1a" stroke-width="1.6"/>
<line x1="414.6" y1="45.18" x2="418.20000000000005" y2="45.18" stroke="#1a1a1a" stroke-width="1.6"/>
<line x1="414.6" y1="21.10" x2="420.6" y2="21.10" stroke="#1a1a1a" stroke-width="1.6"/>
<line x1="424.40" y1="273.6" x2="424.40" y2="267.6" stroke="#1a1a1a" stroke-width="1.6"/>
<line x1="457.60" y1="273.6" x2="457.60" y2="270.0" stroke="#1a1a1a" stroke-width="1.6"/>
<line x1="490.80" y1="273.6" x2="490.80" y2="267.6" stroke="#1a1a1a" stroke-width="1.6"/>
<line x1="524.00" y1="273.6" x2="524.00" y2="270.0" stroke="#1a1a1a" stroke-width="1.6"/>
<line x1="557.20" y1="273.6" x2="557.20" y2="267.6" stroke="#1a1a1a" stroke-width="1.6"/>
<line x1="590.40" y1="273.6" x2="590.40" y2="270.0" stroke="#1a1a1a" stroke-width="1.6"/>
<line x1="623.60" y1="273.6" x2="623.60" y2="267.6" stroke="#1a1a1a" stroke-width="1.6"/>
<line x1="656.80" y1="273.6" x2="656.80" y2="270.0" stroke="#1a1a1a" stroke-width="1.6"/>
<line x1="414.6" y1="521.50" x2="420.6" y2="521.50" stroke="#1a1a1a" stroke-width="1.6"/>
<line x1="414.6" y1="498.39" x2="418.20000000000005" y2="498.39" stroke="#1a1a1a" stroke-width="1.6"/>
<line x1="414.6" y1="475.28" x2="420.6" y2="475.28" stroke="#1a1a1a" stroke-width="1.6"/>
<line x1="414.6" y1="452.17" x2="418.20000000000005" y2="452.17" stroke="#1a1a1a" stroke-width="1.6"/>
<line x1="414.6" y1="429.06" x2="420.6" y2="429.06" stroke="#1a1a1a" stroke-width="1.6"/>
<line x1="414.6" y1="405.95" x2="418.20000000000005" y2="405.95" stroke="#1a1a1a" stroke-width="1.6"/>
<line x1="414.6" y1="382.84" x2="420.6" y2="382.84" stroke="#1a1a1a" stroke-width="1.6"/>
<line x1="414.6" y1="359.73" x2="418.20000000000005" y2="359.73" stroke="#1a1a1a" stroke-width="1.6"/>
<line x1="414.6" y1="336.62" x2="420.6" y2="336.62" stroke="#1a1a1a" stroke-width="1.6"/>
<line x1="414.6" y1="313.51" x2="418.20000000000005" y2="313.51" stroke="#1a1a1a" stroke-width="1.6"/>
<line x1="414.6" y1="290.40" x2="420.6" y2="290.40" stroke="#1a1a1a" stroke-width="1.6"/>
<line x1="424.40" y1="532.9" x2="424.40" y2="526.9" stroke="#1a1a1a" stroke-width="1.6"/>
<line x1="457.60" y1="532.9" x2="457.60" y2="529.3" stroke="#1a1a1a" stroke-width="1.6"/>
<line x1="490.80" y1="532.9" x2="490.80" y2="526.9" stroke="#1a1a1a" stroke-width="1.6"/>
<line x1="524.00" y1="532.9" x2="524.00" y2="529.3" stroke="#1a1a1a" stroke-width="1.6"/>
<line x1="557.20" y1="532.9" x2="557.20" y2="526.9" stroke="#1a1a1a" stroke-width="1.6"/>
<line x1="590.40" y1="532.9" x2="590.40" y2="529.3" stroke="#1a1a1a" stroke-width="1.6"/>
<line x1="623.60" y1="532.9" x2="623.60" y2="526.9" stroke="#1a1a1a" stroke-width="1.6"/>
<line x1="656.80" y1="532.9" x2="656.80" y2="529.3" stroke="#1a1a1a" stroke-width="1.6"/>
<line x1="55.9" y1="530.10" x2="61.9" y2="530.10" stroke="#1a1a1a" stroke-width="1.6"/>
<line x1="55.9" y1="501.58" x2="59.5" y2="501.58" stroke="#1a1a1a" stroke-width="1.6"/>
<line x1="55.9" y1="473.05" x2="61.9" y2="473.05" stroke="#1a1a1a" stroke-width="1.6"/>
<line x1="55.9" y1="444.53" x2="59.5" y2="444.53" stroke="#1a1a1a" stroke-width="1.6"/>
<line x1="55.9" y1="416.00" x2="61.9" y2="416.00" stroke="#1a1a1a" stroke-width="1.6"/>
<line x1="55.9" y1="387.48" x2="59.5" y2="387.48" stroke="#1a1a1a" stroke-width="1.6"/>
<line x1="55.9" y1="358.95" x2="61.9" y2="358.95" stroke="#1a1a1a" stroke-width="1.6"/>
<line x1="55.9" y1="330.43" x2="59.5" y2="330.43" stroke="#1a1a1a" stroke-width="1.6"/>
<line x1="55.9" y1="301.90" x2="61.9" y2="301.90" stroke="#1a1a1a" stroke-width="1.6"/>
<line x1="55.9" y1="273.38" x2="59.5" y2="273.38" stroke="#1a1a1a" stroke-width="1.6"/>
<line x1="72.80" y1="532.9" x2="72.80" y2="526.9" stroke="#1a1a1a" stroke-width="1.6"/>
<line x1="159.50" y1="532.9" x2="159.50" y2="526.9" stroke="#1a1a1a" stroke-width="1.6"/>
<line x1="246.20" y1="532.9" x2="246.20" y2="526.9" stroke="#1a1a1a" stroke-width="1.6"/>
<line x1="332.90" y1="532.9" x2="332.90" y2="526.9" stroke="#1a1a1a" stroke-width="1.6"/>
<rect x="55.9" y="273.4" width="277.1" height="259.5" fill="none" stroke="#1a1a1a" stroke-width="1.6"/>
<rect x="414.6" y="14.6" width="267.0" height="259.0" fill="none" stroke="#1a1a1a" stroke-width="1.6"/>
<rect x="414.6" y="273.6" width="267.0" height="259.29999999999995" fill="none" stroke="#1a1a1a" stroke-width="1.6"/>
<rect x="536.8" y="103.4" width="139" height="82.4" rx="2.5" fill="#555" fill-opacity="0.45" transform="translate(1.0,1.3)"/>
<rect x="536.8" y="103.4" width="139" height="82.4" rx="2.5" fill="#fff" stroke="#c8c8c8" stroke-width="1"/>
<circle cx="553.50" cy="112.60" r="2.9" fill="#3a7fc1"/>
<rect x="548.20" y="123.40" width="10.6" height="10.6" fill="#bcbd22"/>
<path d="M553.50,139.10 L558.80,149.70 L548.20,149.70 Z" fill="#e377c2"/>
<path d="M553.50,152.90 L560.80,160.20 L553.50,167.50 L546.20,160.20 Z" fill="#9265c3"/>
<path d="M553.50,167.30 L555.54,173.59 L562.15,173.59 L556.81,177.47 L558.85,183.76 L553.50,179.88 L548.15,183.76 L550.19,177.47 L544.85,173.59 L551.46,173.59 Z" fill="#44aa33"/>
<text x="578.5" y="115.50" font-size="13.6">Original</text>
<text x="577.9" y="132.30" font-size="13.6">2 objects, EHVI</text>
<text x="577.9" y="148.10" font-size="13.6">2 objects, TS</text>
<text x="577.9" y="163.90" font-size="13.6">3 objects, EHVI</text>
<text x="577.9" y="179.70" font-size="13.6">3 objects, TS</text>
<rect x="536.8" y="281.5" width="139" height="82.4" rx="2.5" fill="#555" fill-opacity="0.45" transform="translate(1.0,1.3)"/>
<rect x="536.8" y="281.5" width="139" height="82.4" rx="2.5" fill="#fff" stroke="#c8c8c8" stroke-width="1"/>
<circle cx="553.50" cy="290.70" r="2.9" fill="#3a7fc1"/>
<rect x="548.20" y="301.50" width="10.6" height="10.6" fill="#bcbd22"/>
<path d="M553.50,317.20 L558.80,327.80 L548.20,327.80 Z" fill="#e377c2"/>
<path d="M553.50,331.00 L560.80,338.30 L553.50,345.60 L546.20,338.30 Z" fill="#9265c3"/>
<path d="M553.50,345.40 L555.54,351.69 L562.15,351.69 L556.81,355.57 L558.85,361.86 L553.50,357.98 L548.15,361.86 L550.19,355.57 L544.85,351.69 L551.46,351.69 Z" fill="#44aa33"/>
<text x="578.5" y="293.60" font-size="13.6">Original</text>
<text x="577.9" y="310.40" font-size="13.6">2 objects, EHVI</text>
<text x="577.9" y="326.20" font-size="13.6">2 objects, TS</text>
<text x="577.9" y="342.00" font-size="13.6">3 objects, EHVI</text>
<text x="577.9" y="357.80" font-size="13.6">3 objects, TS</text>
<rect x="124.4" y="475.4" width="199.6" height="49" rx="3" fill="#fff" fill-opacity="0.85" stroke="#d4d4d4" stroke-width="1"/>
<circle cx="148.60" cy="490.40" r="2.2" fill="#9265c3"/>
<circle cx="148.60" cy="510.00" r="2.2" fill="#44aa33"/>
<text x="172.6" y="495.4" font-size="17.6">Gly-Leu-Ala (95%)</text>
<text x="172.6" y="515.0" font-size="17.6">Ala-Asn-Asn (0%)</text></svg>
</body></html>
